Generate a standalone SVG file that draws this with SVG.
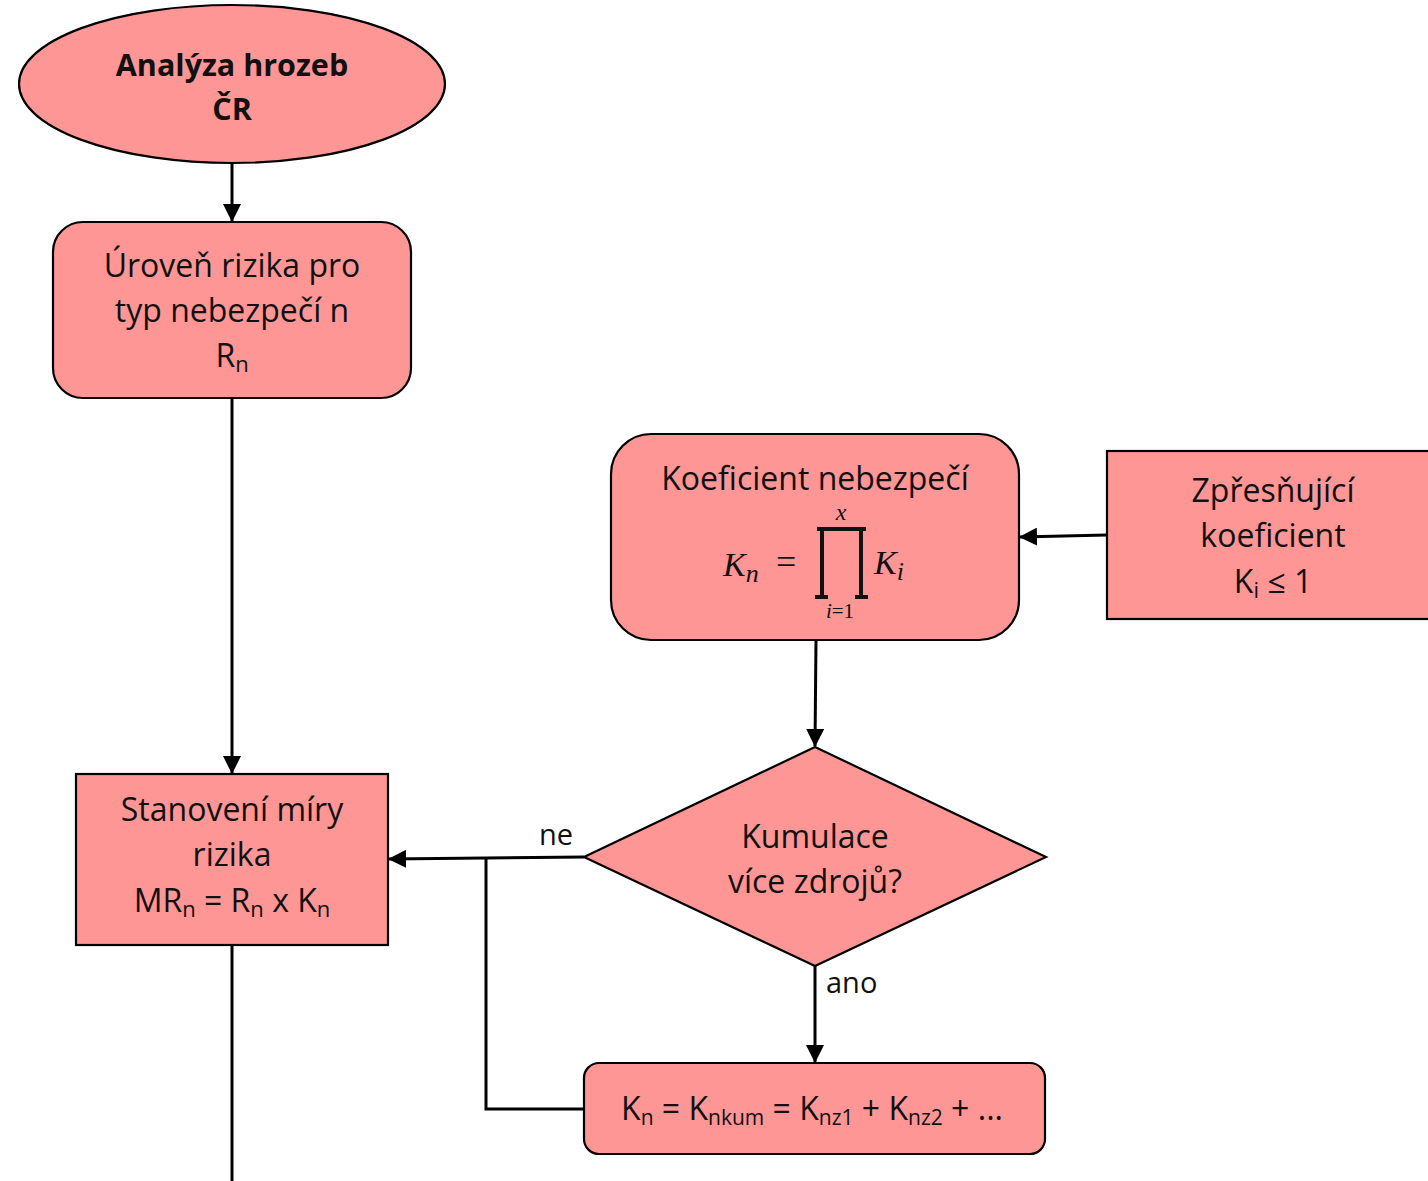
<svg xmlns="http://www.w3.org/2000/svg" width="1428" height="1181" viewBox="0 0 1428 1181">
  <style>
    .node { fill: #ff9696; stroke: #000; stroke-width: 2.2; }
    .t { font-family: "Open Sans", "Liberation Sans", sans-serif; font-size: 32px; fill: #111; text-anchor: middle; }
    .b { font-weight: bold; font-size: 30.5px; }
    .m { font-family: "Liberation Serif", "DejaVu Serif", serif; font-style: italic; fill: #111; }
    .conn { fill: none; stroke: #000; stroke-width: 3; }
    .lbl { font-family: "Open Sans", "Liberation Sans", sans-serif; font-size: 29px; fill: #111; }
  </style>
  <defs>
    <marker id="arrow" viewBox="0 0 18 18" refX="17" refY="9" markerWidth="18" markerHeight="18" markerUnits="userSpaceOnUse" orient="auto">
      <path d="M0,0 L18,9 L0,18 z" fill="#000"/>
    </marker>
  </defs>

  <!-- connectors -->
  <g id="connectors">
    <line class="conn" x1="232" y1="163" x2="232" y2="221" marker-end="url(#arrow)"/>
    <line class="conn" x1="232" y1="398" x2="232" y2="773" marker-end="url(#arrow)"/>
    <line class="conn" x1="232" y1="945" x2="232" y2="1181"/>
    <line class="conn" x1="1107" y1="535" x2="1020" y2="537" marker-end="url(#arrow)"/>
    <line class="conn" x1="816" y1="640" x2="815" y2="746" marker-end="url(#arrow)"/>
    <line class="conn" x1="584" y1="857" x2="389" y2="859" marker-end="url(#arrow)"/>
    <line class="conn" x1="815" y1="966" x2="815" y2="1062" marker-end="url(#arrow)"/>
    <polyline class="conn" points="584,1109 486,1109 486,859"/>
    <text class="lbl" x="539" y="845">ne</text>
    <text class="lbl" x="826" y="993">ano</text>
  </g>

  <!-- start -->
  <g id="start">
    <ellipse class="node" cx="232" cy="84" rx="213" ry="79"/>
    <text class="t b" x="232" y="76">Analýza hrozeb</text>
    <text class="t b" x="232" y="120">ČR</text>
  </g>

  <g id="risk-level">
    <rect class="node" x="53" y="222" width="358" height="176" rx="30"/>
    <text class="t" x="232" y="277">Úroveň rizika pro</text>
    <text class="t" x="232" y="322">typ nebezpečí n</text>
    <text class="t" x="232" y="367">R<tspan font-size="22" dy="5">n</tspan></text>
  </g>

  <g id="risk-measure">
    <rect class="node" x="76" y="774" width="312" height="171"/>
    <text class="t" x="232" y="821">Stanovení míry</text>
    <text class="t" x="232" y="866">rizika</text>
    <text class="t" x="232" y="912">MR<tspan font-size="22" dy="5">n</tspan><tspan dy="-5"> = R</tspan><tspan font-size="22" dy="5">n</tspan><tspan dy="-5"> x K</tspan><tspan font-size="22" dy="5">n</tspan></text>
  </g>

  <g id="hazard-coefficient">
    <rect class="node" x="611" y="434" width="408" height="206" rx="40"/>
    <text class="t" x="815" y="490">Koeficient nebezpečí</text>
    <text class="m" x="723" y="576" font-size="34">K<tspan font-size="26" dy="6">n</tspan></text>
    <text x="776" y="574" font-family="Liberation Serif, serif" font-size="36" fill="#111">=</text>
    <path d="M817,529 H866 M822,529 V597 M861,529 V597 M815,597 H828 M855,597 H868" stroke="#111" stroke-width="4" fill="none"/>
    <text class="m" x="841" y="520" font-size="24" text-anchor="middle">x</text>
    <text class="m" x="840" y="618" font-size="21" text-anchor="middle">i<tspan font-style="normal">=1</tspan></text>
    <text class="m" x="874" y="574" font-size="34">K<tspan font-size="26" dy="6">i</tspan></text>
  </g>

  <g id="refining-coefficient">
    <rect class="node" x="1107" y="451" width="330" height="168"/>
    <text class="t" x="1273" y="502">Zpřesňující</text>
    <text class="t" x="1273" y="547">koeficient</text>
    <text class="t" x="1273" y="593">K<tspan font-size="22" dy="5">i</tspan><tspan dy="-5"> ≤ 1</tspan></text>
  </g>

  <g id="decision">
    <polygon class="node" points="815,747 1046,857 815,966 584,857"/>
    <text class="t" x="815" y="848">Kumulace</text>
    <text class="t" x="815" y="893">více zdrojů?</text>
  </g>

  <g id="cumulative">
    <rect class="node" x="584" y="1063" width="461" height="91" rx="15"/>
    <text class="t" x="812" y="1120" font-size="29">K<tspan font-size="21" dy="5">n</tspan><tspan dy="-5"> = K</tspan><tspan font-size="21" dy="5">nkum</tspan><tspan dy="-5"> = K</tspan><tspan font-size="21" dy="5">nz1</tspan><tspan dy="-5"> + K</tspan><tspan font-size="21" dy="5">nz2</tspan><tspan dy="-5"> + ...</tspan></text>
  </g>
</svg>
